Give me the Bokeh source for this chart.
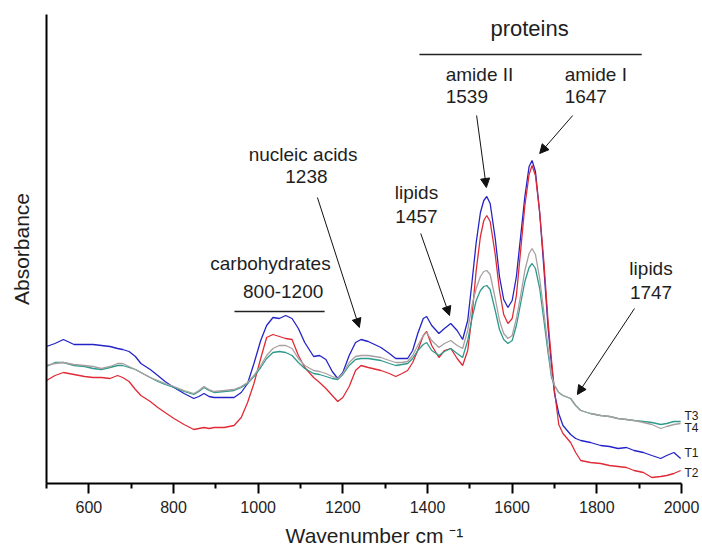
from bokeh.plotting import figure
from bokeh.models import Range1d, FixedTicker, Label, Arrow, NormalHead
from bokeh.embed import file_html
from bokeh.resources import INLINE

# Wavenumber grid (cm-1)
wavenumber = [500, 520, 540, 565, 590, 610, 630, 650, 668, 680, 695, 710, 723, 745, 763, 780, 801, 825, 848, 860,
              872, 884, 896, 920, 943, 960, 975, 990, 1006, 1020, 1035, 1050, 1065, 1080, 1095, 1110, 1131, 1145,
              1160, 1175, 1188, 1200, 1215, 1230, 1243, 1260, 1290, 1310, 1325, 1340, 1353, 1365, 1377, 1390, 1398,
              1410, 1427, 1440, 1455, 1470, 1483, 1495, 1505, 1515, 1525, 1533, 1540, 1548, 1560, 1570, 1580, 1590,
              1600, 1610, 1620, 1630, 1640, 1647, 1655, 1665, 1675, 1685, 1693, 1700, 1710, 1720, 1738, 1750, 1762,
              1785, 1809, 1830, 1850, 1870, 1888, 1910, 1930, 1951, 1965, 1982, 1998]

# Absorbance (arbitrary milli-units)
T1 = [137, 140, 144, 139, 139, 139, 138, 137, 135, 134, 132, 127, 120, 114, 108, 102, 96, 90, 85, 87,
      90, 87, 86, 86, 86, 91, 100, 120, 143, 158, 166, 165, 168, 165, 155, 141, 127, 128,
      124, 112, 105, 111, 128, 141, 144, 142, 136, 130, 125, 125, 125, 133, 150, 165, 167,
      158, 150, 155, 160, 153, 144, 163, 201, 241, 271, 283, 287, 280, 245, 207, 184, 176,
      183, 207, 247, 287, 317, 323, 312, 271, 215, 155, 118, 90, 70, 58, 49, 45, 43,
      41, 38, 37, 35, 36, 33, 31, 28, 25, 28, 31, 25]
T2 = [103, 108, 111, 109, 107, 106, 106, 105, 108, 106, 102, 94, 88, 82, 76, 71, 65, 59, 54, 55,
      56, 55, 56, 56, 58, 66, 81, 100, 125, 146, 149, 147, 145, 144, 128, 116, 106, 101,
      95, 88, 82, 86, 97, 113, 118, 116, 113, 110, 107, 110, 113, 121, 133, 148, 152,
      138, 126, 133, 135, 125, 118, 133, 167, 213, 247, 263, 268, 262, 229, 193, 169, 160,
      165, 188, 233, 278, 309, 318, 308, 271, 221, 161, 123, 93, 59, 50, 41, 31, 23,
      21, 20, 18, 17, 16, 13, 11, 6, 7, 8, 10, 13]
T4 = [118, 120, 121, 119, 118, 117, 115, 117, 120, 120, 117, 114, 111, 106, 103, 100, 97, 93, 90, 93,
      97, 94, 92, 93, 94, 97, 101, 108, 118, 128, 135, 138, 138, 135, 125, 118, 113, 112,
      110, 107, 105, 110, 121, 127, 128, 128, 126, 123, 121, 121, 122, 128, 138, 148, 151,
      143, 136, 140, 143, 138, 135, 153, 178, 195, 207, 212, 213, 209, 185, 163, 150, 145,
      148, 165, 188, 213, 230, 235, 229, 205, 171, 135, 108, 98, 91, 88, 85, 78, 73,
      70, 68, 67, 65, 64, 63, 61, 59, 55, 57, 59, 60]
T3 = [117, 121, 121, 118, 117, 115, 114, 116, 118, 118, 116, 114, 111, 106, 102, 99, 96, 92, 89, 92,
      96, 93, 91, 92, 93, 96, 100, 107, 116, 125, 131, 132, 131, 128, 121, 115, 110, 109,
      107, 105, 104, 109, 118, 124, 125, 125, 123, 120, 118, 119, 120, 125, 133, 139, 141,
      133, 128, 132, 135, 130, 126, 143, 165, 183, 193, 197, 198, 194, 173, 154, 144, 140,
      143, 158, 180, 202, 216, 220, 215, 195, 163, 130, 106, 98, 91, 88, 85, 78, 73,
      70, 68, 67, 65, 64, 63, 62, 61, 59, 60, 62, 62]

series_names = ["T1", "T2", "T3", "T4"]
series_colors = ["#2323c8", "#e02a35", "#2f9a8c", "#a8a0a0"]
series_values = [T1, T2, T3, T4]
series_label_y = [30.5, 10.5, 67.5, 55.5]

for s in series_values:
    assert len(s) == len(wavenumber), len(s)

x_ticks = [600, 800, 1000, 1200, 1400, 1600, 1800, 2000]
x_minor = [500, 700, 900, 1100, 1300, 1500, 1700, 1900]

FONT = "Liberation Sans"
TXT = "#1e1e1e"

p = figure(width=702, height=552, output_backend="svg", toolbar_location=None,
           x_range=Range1d(500, 2049.6), y_range=Range1d(0, 469),
           min_border_left=46, min_border_right=0, min_border_top=14, min_border_bottom=69)
p.outline_line_color = None
p.grid.visible = False
p.background_fill_color = "white"
p.border_fill_color = "white"

xa = p.xaxis[0]
xa.bounds = (500, 2000)
xa.ticker = FixedTicker(ticks=x_ticks, minor_ticks=x_minor)
xa.axis_line_width = 2
xa.axis_line_color = "black"
xa.major_tick_line_width = 2
xa.minor_tick_line_width = 2
xa.major_tick_out = 10
xa.major_tick_in = 0
xa.minor_tick_out = 5
xa.minor_tick_in = 0
xa.major_label_text_font = FONT
xa.major_label_text_font_size = "16px"
xa.major_label_text_color = TXT
xa.major_label_standoff = 7
xa.axis_label = "Wavenumber cm \u207b\u00b9"
xa.axis_label_text_font = FONT
xa.axis_label_text_font_size = "21px"
xa.axis_label_text_font_style = "normal"
xa.axis_label_text_color = TXT
xa.axis_label_standoff = 8

ya = p.yaxis[0]
ya.ticker = FixedTicker(ticks=[])
ya.axis_line_width = 2
ya.axis_line_color = "black"
ya.major_tick_line_color = None
ya.minor_tick_line_color = None
ya.major_label_text_font_size = "0px"
ya.axis_label = "Absorbance"
ya.axis_label_text_font = FONT
ya.axis_label_text_font_size = "21px"
ya.axis_label_text_font_style = "normal"
ya.axis_label_text_color = TXT
ya.axis_label_standoff = 14

for name, col, vals in zip(series_names, series_colors, series_values):
    p.line(wavenumber, vals, line_color=col, line_width=1.3)

def add_label(text, x, y, size, align="left"):
    p.add_layout(Label(x=x, y=y, text=text, text_font=FONT, text_font_size=size,
                       text_color=TXT, text_align=align, text_baseline="middle"))

for name, col, ly in zip(series_names, series_colors, series_label_y):
    add_label(name, 2007, ly, "12px")

# annotation texts: (text, x, y, size, align)
texts = [
    ("proteins", 1641, 455, "22px", "center"),
    ("amide II", 1443, 409.5, "19px", "left"),
    ("1539", 1443, 387, "19px", "left"),
    ("amide I", 1724, 409.5, "19px", "left"),
    ("1647", 1724, 387, "19px", "left"),
    ("nucleic acids", 1106, 329.5, "19px", "center"),
    ("1238", 1114, 307.5, "19px", "center"),
    ("carbohydrates", 1029, 220.5, "19px", "center"),
    ("800-1200", 1059, 192, "19px", "center"),
    ("lipids", 1374, 291.5, "19px", "center"),
    ("1457", 1374, 267, "19px", "center"),
    ("lipids", 1928, 215.5, "19px", "center"),
    ("1747", 1928, 191.5, "19px", "center"),
]
for t, x, y, s, a in texts:
    add_label(t, x, y, s, a)

# bracket lines
lines = [((1381, 1906), (429, 429)), ((944, 1157), (172, 172))]
for xs, ys in lines:
    p.line(list(xs), list(ys), line_color="#222222", line_width=1.3)

# arrows: (x0, y0, x1, y1)
arrows = [
    (1140, 286, 1239, 156),
    (1384, 250, 1452, 168),
    (1516, 368, 1539, 296),
    (1743, 368, 1665, 330),
    (1889, 175, 1754, 89),
]
for x0, y0, x1, y1 in arrows:
    p.add_layout(Arrow(x_start=x0, y_start=y0, x_end=x1, y_end=y1, line_width=1, line_color="#111111",
                       end=NormalHead(size=9, fill_color="#111111", line_color="#111111")))

open("out.html", "w").write(file_html(p, INLINE))
